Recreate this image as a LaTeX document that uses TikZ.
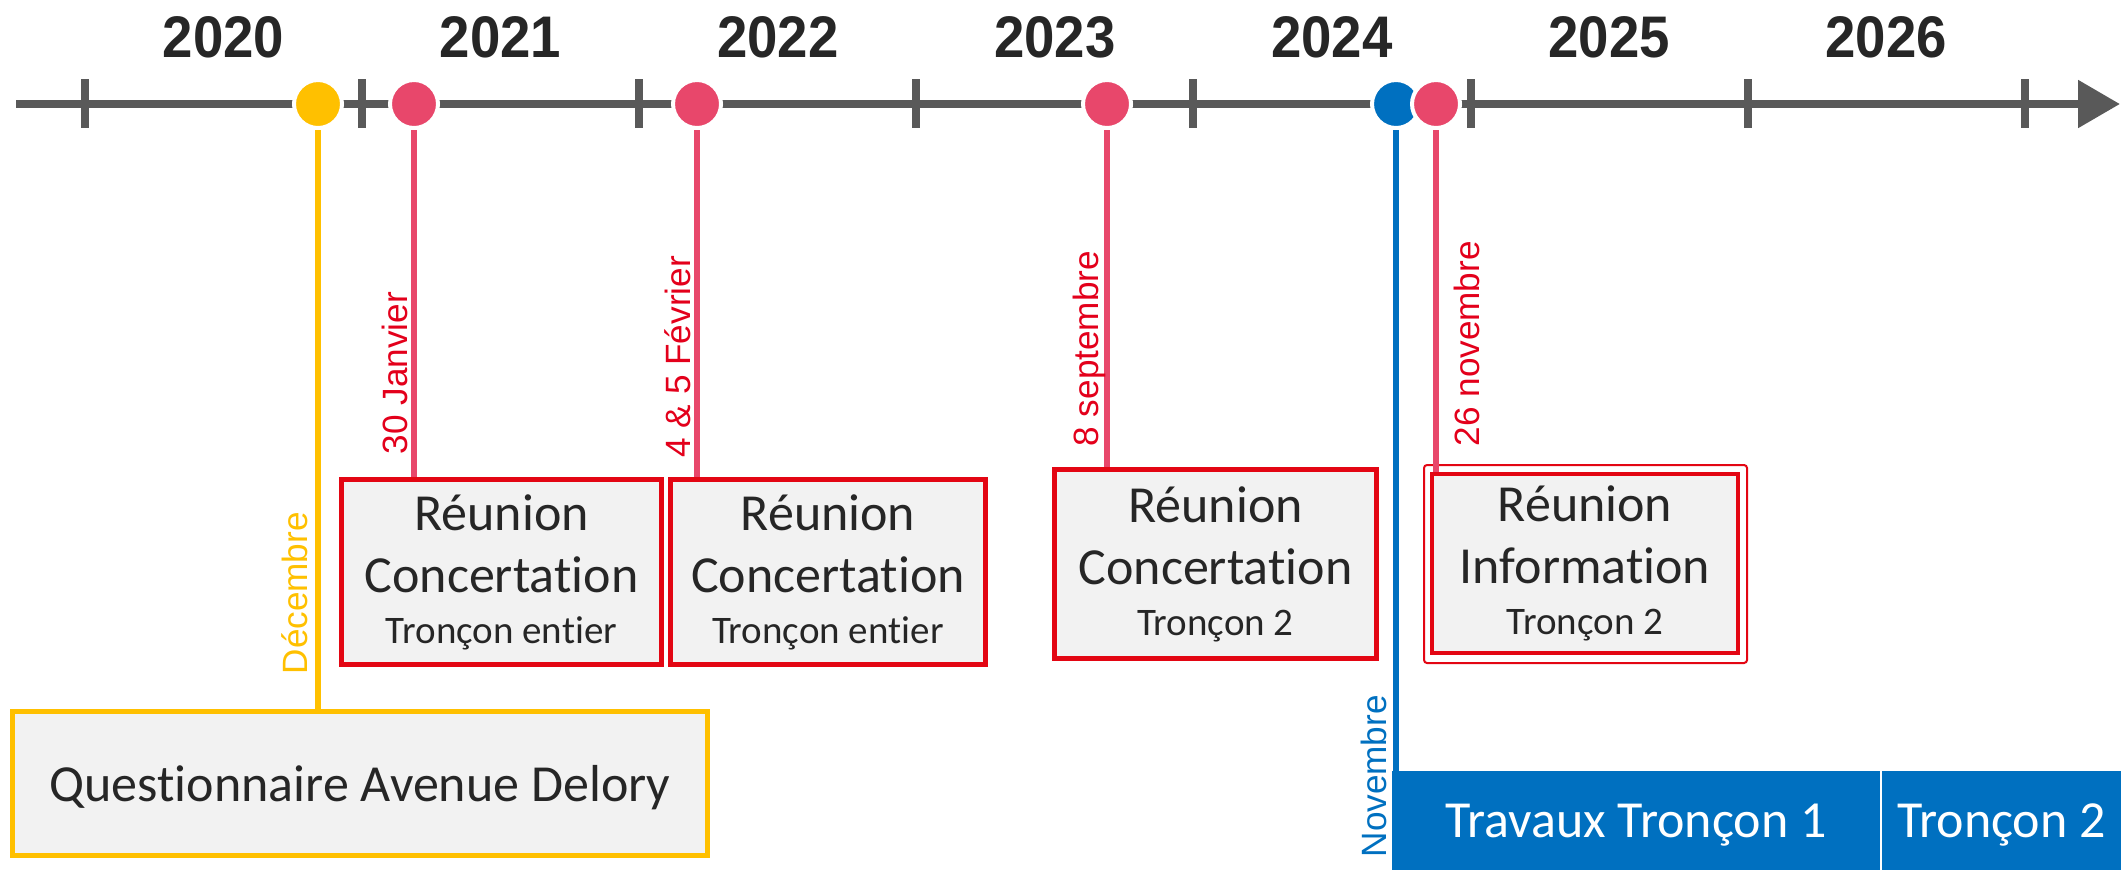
\documentclass[tikz,border=0pt]{standalone}
\usepackage{fontspec}
\setmainfont{Liberation Sans}
\newfontfamily\boxfont[Ligatures={NoCommon}]{Carlito}
\newfontfamily\yearfont[FakeStretch=0.93]{Liberation Sans}
\usetikzlibrary{arrows.meta,calc}
\definecolor{axisgray}{HTML}{595959}
\definecolor{dotred}{HTML}{E8476B}
\definecolor{boxred}{HTML}{E30613}
\definecolor{datered}{HTML}{E3001B}
\definecolor{dotyellow}{HTML}{FFC000}
\definecolor{worksblue}{HTML}{0070C0}
\definecolor{boxfill}{HTML}{F2F2F2}
\definecolor{textdark}{HTML}{262626}
\tikzset{
    yearlabel/.style={font=\yearfont\bfseries\fontsize{16.7pt}{20pt}\selectfont, text=textdark, anchor=base, inner sep=0},
    eventdot/.style={circle, minimum size=4.8mm, inner sep=0, draw=white, line width=0.4mm, fill=#1},
    stem/.style={line width=0.6mm, #1},
    datelabel/.style={rotate=90, anchor=base west, inner sep=0, font=\fontsize{10pt}{12pt}\selectfont, text=#1},
    meetbox/.style={draw=boxred, line width=0.5mm, fill=boxfill, text=textdark, align=center, inner sep=0, font=\boxfont\fontsize{14.8pt}{17.6pt}\selectfont},
    worksbar/.style={fill=worksblue, text=white, inner sep=0, text depth=0pt, font=\boxfont\fontsize{14.8pt}{17.6pt}\selectfont},
}
\begin{document}
\begin{tikzpicture}[x=0.1mm, y=-0.1mm]
    \useasboundingbox (0,0) rectangle (2121,870);
    \draw[axisgray, line width=0.85mm, -{Triangle[length=4.2mm, width=4.6mm]}] (16,104) -- (2120,104);
    \foreach \i in {0,...,7}
        \draw[axisgray, line width=0.8mm] ({85+277.1*\i},79) -- ({85+277.1*\i},128);
    \foreach \i [evaluate=\i as \yr using int(2020+\i)] in {0,...,6}
        \node[yearlabel] (y\i) at ({85+277.1*(\i+0.5)},57) {\yr};
    \node[eventdot=dotyellow] (dec) at (318,104) {};
    \node[eventdot=dotred] (jan) at (414,104) {};
    \node[eventdot=dotred] (feb) at (697,104) {};
    \node[eventdot=dotred] (sep) at (1107,104) {};
    \node[eventdot=worksblue] (nov) at (1396,104) {};
    \node[eventdot=dotred] (info) at (1436,104) {};
    \node[meetbox, draw=dotyellow, text depth=0pt, minimum width=69.5mm, minimum height=14.4mm] (quest) at (360,783.5) {Questionnaire Avenue Delory};
    \node[meetbox, minimum width=32mm, minimum height=18.5mm] (m1) at (501.5,572) {Réunion\\Concertation\\[-3.1pt]{\fontsize{11.1pt}{13pt}\selectfont Tronçon entier}};
    \node[meetbox, minimum width=31.5mm, minimum height=18.5mm] (m2) at (828,572) {Réunion\\Concertation\\[-3.1pt]{\fontsize{11.1pt}{13pt}\selectfont Tronçon entier}};
    \node[meetbox, minimum width=32.2mm, minimum height=18.9mm] (m3) at (1215.5,564) {Réunion\\Concertation\\[-3.1pt]{\fontsize{11.1pt}{13pt}\selectfont Tronçon 2}};
    \node[meetbox, line width=0.4mm, minimum width=30.6mm, minimum height=17.9mm] (m4) at (1585,563.5) {Réunion\\Information\\[-3.1pt]{\fontsize{11.1pt}{13pt}\selectfont Tronçon 2}};
    \draw[boxred, line width=0.2mm, rounded corners=0.3mm] ($(m4.north west)+(-6,-7)$) rectangle ($(m4.south east)+(7,8)$);
    \node[worksbar, minimum width=48.8mm, minimum height=9.9mm] (t1) at (1636,820.5) {Travaux Tronçon 1};
    \node[worksbar, minimum width=23.9mm, minimum height=9.9mm] (t2) at (2001.5,820.5) {Tronçon 2};
    \coordinate (novend) at (1396,870);
    \draw[stem=dotyellow] (dec) -- (dec |- quest.north);
    \draw[stem=dotred] (jan) -- (jan |- m1.north);
    \draw[stem=dotred] (feb) -- (feb |- m2.north);
    \draw[stem=dotred] (sep) -- (sep |- m3.north);
    \draw[stem=dotred] (info) -- (info |- m4.north);
    \draw[stem=worksblue] (nov) -- (novend);
    \node[datelabel=dotyellow] (decl) at (307,675) {Décembre};
    \node[datelabel=datered] (janl) at (407,455) {30 Janvier};
    \node[datelabel=datered] (febl) at (690,458) {4 \& 5 Février};
    \node[datelabel=datered] (sepl) at (1098,447) {8 septembre};
    \node[datelabel=datered] (infol) at (1479,447) {26 novembre};
    \node[datelabel=worksblue] (novl) at (1386,858) {Novembre};
\end{tikzpicture}
\end{document}
